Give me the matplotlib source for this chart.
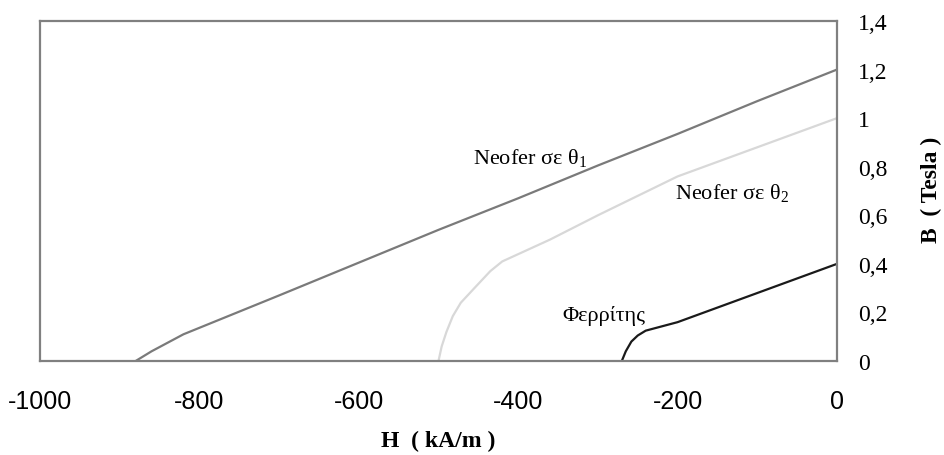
import matplotlib
matplotlib.use("Agg")
import matplotlib.pyplot as plt

# B-H demagnetisation curves
h_neo1 = [-880, -860, -840, -820, -700, -600, -500, -400, -300, -200, -100, 0]
b_neo1 = [0.0, 0.04, 0.075, 0.11, 0.27, 0.405, 0.54, 0.67, 0.805, 0.935, 1.07, 1.2]

h_neo2 = [-500, -496, -490, -482, -472, -455, -435, -420, -360, -300, -250, -200, -100, 0]
b_neo2 = [0.0, 0.06, 0.12, 0.185, 0.24, 0.3, 0.37, 0.41, 0.5, 0.6, 0.68, 0.76, 0.88, 1.0]

h_fer = [-270, -265, -258, -250, -240, -200, -100, 0]
b_fer = [0.0, 0.04, 0.08, 0.105, 0.125, 0.16, 0.28, 0.4]

xticks = [-1000, -800, -600, -400, -200, 0]
yticks = [0, 0.2, 0.4, 0.6, 0.8, 1.0, 1.2, 1.4]
ylabels = ["0", "0,2", "0,4", "0,6", "0,8", "1", "1,2", "1,4"]

plt.rcParams["mathtext.fontset"] = "custom"
plt.rcParams["mathtext.rm"] = "Liberation Serif"
plt.rcParams["mathtext.it"] = "Liberation Serif:italic"

fig = plt.figure(figsize=(9.45, 4.56), dpi=100)
ax = fig.add_axes([0.0423, 0.2061, 0.8434, 0.7457])

ax.plot(h_neo1, b_neo1, color="#7a7a7a", lw=1.6)
ax.plot(h_neo2, b_neo2, color="#d8d8d8", lw=1.6)
ax.plot(h_fer, b_fer, color="#1a1a1a", lw=1.6)

ax.set_xlim(-1000, 0)
ax.set_ylim(0, 1.4)

for s in ax.spines.values():
    s.set_color("#808080")
    s.set_linewidth(1.6)

ax.set_xticks(xticks)
ax.set_xticklabels([str(v) for v in xticks], family="Liberation Sans", fontsize=18)
ax.yaxis.tick_right()
ax.set_yticks(yticks)
ax.set_yticklabels(ylabels, family="Liberation Serif", fontsize=17)
ax.tick_params(axis="x", length=0, pad=20)
ax.tick_params(axis="y", length=0, pad=15)

ax.set_xlabel("H  ( kA/m )", family="Liberation Serif", fontweight="bold",
              fontsize=17, labelpad=12)
ax.yaxis.set_label_position("right")
ax.set_ylabel("B  ( Tesla )", family="Liberation Serif", fontweight="bold",
              fontsize=17, rotation=90)
ax.yaxis.label.set(va="center", ha="center", rotation_mode="anchor")
ax.yaxis.set_label_coords(1.119, 0.506)

ax.text(-457, 0.84, r"Neofer σε θ$_{1}$", family="Liberation Serif",
        fontsize=16, va="center", ha="left")
ax.text(-203, 0.695, r"Neofer σε θ$_{2}$", family="Liberation Serif",
        fontsize=16, va="center", ha="left")
ax.text(-345, 0.19, "Φερρίτης", family="Liberation Serif",
        fontsize=16, va="center", ha="left")

fig.savefig("out.png", dpi=100)
